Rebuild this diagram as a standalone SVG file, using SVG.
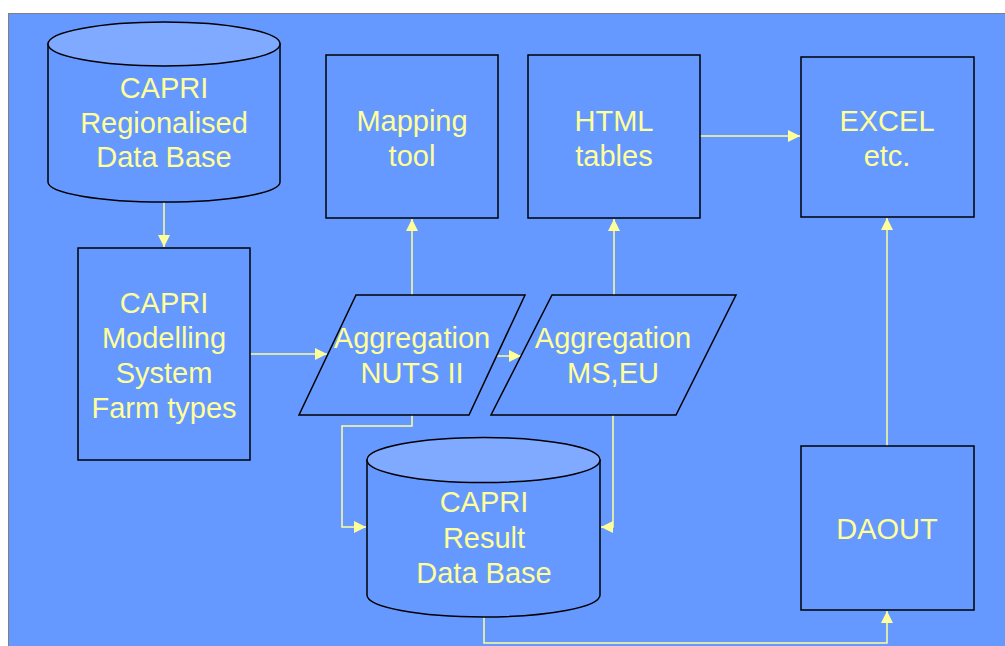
<svg xmlns="http://www.w3.org/2000/svg" width="1005" height="646" viewBox="0 0 1005 646">
<style>
.n{fill:#6699FF;stroke:#000;stroke-width:1.5}
.top{fill:#80AAFF;stroke:#000;stroke-width:1.5}
.t{font-family:"Liberation Sans",Arial,sans-serif;font-size:29px;fill:#FFFF99;text-anchor:middle}
.c{fill:none;stroke:#FFFF99;stroke-width:1.5}
</style>
<defs>
<marker id="a" markerUnits="userSpaceOnUse" markerWidth="14" markerHeight="12" refX="12" refY="6" orient="auto">
<path d="M0,0 L12,6 L0,12 Z" fill="#FFFF99"/>
</marker>
</defs>
<rect x="0" y="0" width="1005" height="646" fill="#fff"/>
<rect x="8.5" y="13.5" width="1000" height="640" fill="#6699FF" stroke="#808080" stroke-width="1"/>

<g id="connectors">
<path class="c" d="M164,201 V247" marker-end="url(#a)"/>
<path class="c" d="M250,354 H327" marker-end="url(#a)"/>
<path class="c" d="M497,356 H521" marker-end="url(#a)"/>
<path class="c" d="M412,295 V219" marker-end="url(#a)"/>
<path class="c" d="M614,295 V219" marker-end="url(#a)"/>
<path class="c" d="M700,136 H800" marker-end="url(#a)"/>
<path class="c" d="M887,446 V218" marker-end="url(#a)"/>
<path class="c" d="M412,415 V426 H342 V527 H366" marker-end="url(#a)"/>
<path class="c" d="M613,415 V527 H601" marker-end="url(#a)"/>
<path class="c" d="M484,617 V643 H887 V611" marker-end="url(#a)"/>
</g>

<g id="regional-db">
<path class="n" d="M48,44 V182 A116,20 0 0 0 280,182 V44 Z"/>
<ellipse class="top" cx="164" cy="44" rx="116" ry="22"/>
<text class="t" x="164" y="98">CAPRI</text>
<text class="t" x="164" y="133">Regionalised</text>
<text class="t" x="164" y="167">Data Base</text>
</g>

<g id="modelling">
<rect class="n" x="78" y="248" width="172" height="212"/>
<text class="t" x="164" y="313">CAPRI</text>
<text class="t" x="164" y="348">Modelling</text>
<text class="t" x="164" y="383">System</text>
<text class="t" x="164" y="418">Farm types</text>
</g>

<g id="mapping">
<rect class="n" x="326" y="55" width="172" height="163"/>
<text class="t" x="412" y="131">Mapping</text>
<text class="t" x="412" y="166">tool</text>
</g>

<g id="html">
<rect class="n" x="528" y="55" width="172" height="163"/>
<text class="t" x="614" y="131">HTML</text>
<text class="t" x="614" y="166">tables</text>
</g>

<g id="excel">
<rect class="n" x="801" y="57" width="173" height="160"/>
<text class="t" x="887" y="131">EXCEL</text>
<text class="t" x="887" y="166">etc.</text>
</g>

<g id="agg-nuts">
<polygon class="n" points="356,295 525,295 469,415 299,415"/>
<text class="t" x="412" y="348">Aggregation</text>
<text class="t" x="412" y="383">NUTS II</text>
</g>

<g id="agg-ms">
<polygon class="n" points="552,295 736,295 676,415 491,415"/>
<text class="t" x="613" y="348">Aggregation</text>
<text class="t" x="613" y="383">MS,EU</text>
</g>

<g id="result-db">
<path class="n" d="M367,460 V595 A116.5,22 0 0 0 600,595 V460 Z"/>
<ellipse class="top" cx="483.5" cy="460" rx="116.5" ry="22.5"/>
<text class="t" x="484" y="512">CAPRI</text>
<text class="t" x="484" y="548">Result</text>
<text class="t" x="484" y="583">Data Base</text>
</g>

<g id="daout">
<rect class="n" x="801" y="446" width="173" height="164"/>
<text class="t" x="887" y="539">DAOUT</text>
</g>
</svg>
